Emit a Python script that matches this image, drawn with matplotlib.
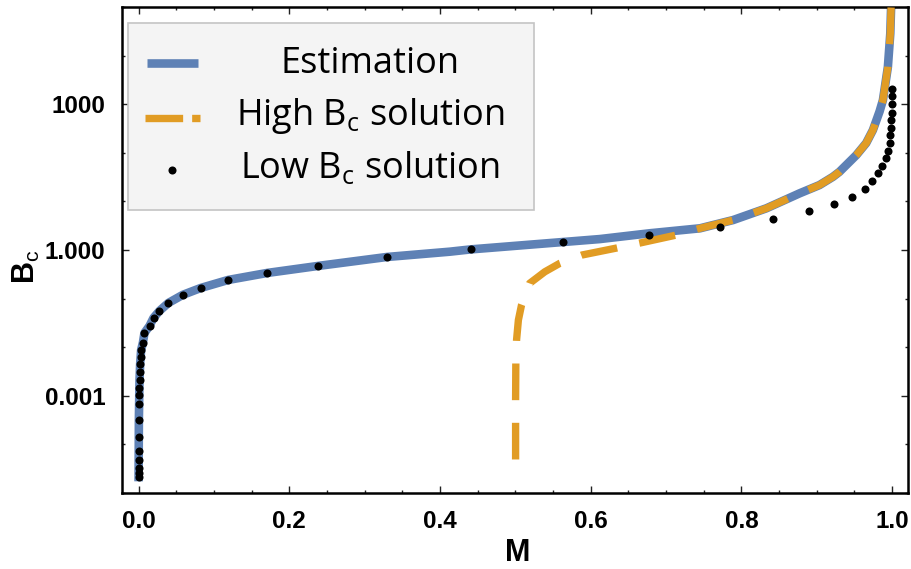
import matplotlib
matplotlib.use("Agg")
import matplotlib.pyplot as plt
from matplotlib.lines import Line2D
from matplotlib.patches import Rectangle
from matplotlib.ticker import NullFormatter

# values
# estimation curve (blue)
est_M = [0.0, 0.0004, 0.0012, 0.0021, 0.0034, 0.0057, 0.0078, 0.0145, 0.0198,
         0.0277, 0.0396, 0.0587, 0.0826, 0.1188, 0.1705, 0.2381, 0.3296, 0.413,
         0.441, 0.563, 0.612, 0.678, 0.745, 0.789, 0.833, 0.877, 0.9035, 0.9214,
         0.930, 0.9524, 0.9655, 0.9744, 0.9833, 0.9877, 0.9922, 0.9943, 0.9975,
         0.9988]
est_B = [1.70e-5, 3.2e-4, 2.0e-3, 4.5e-3, 8.7e-3, 1.22e-2, 1.95e-2, 2.72e-2, 3.98e-2,
         5.55e-2, 8.11e-2, 0.119, 0.165, 0.241, 0.336, 0.469, 0.718, 0.923,
         1.03, 1.46, 1.68, 2.21, 2.80, 4.15, 7.23, 14.7, 21.8, 32.3,
         40.9, 90.4, 160, 296, 720, 1225, 3600, 5940, 2.9e4,
         1.3e5]

# high Bc solution (orange dashed)
high_M = [0.5003, 0.5003, 0.5006, 0.5016, 0.504, 0.5082, 0.519, 0.539, 0.559,
          0.5886, 0.6346, 0.665, 0.714, 0.745, 0.789, 0.833, 0.877, 0.9035,
          0.9214, 0.930, 0.9524, 0.9655, 0.9744, 0.9833, 0.9877, 0.9922, 0.9943,
          0.9975, 0.9988]
high_B = [4.8e-5, 8.1e-4, 4.7e-3, 1.41e-2, 3.6e-2, 7.4e-2, 0.206, 0.355, 0.532,
          0.789, 1.10, 1.39, 2.04, 2.80, 4.15, 7.23, 14.7, 21.8,
          32.3, 40.9, 90.4, 160, 296, 720, 1225, 3600, 5940,
          2.9e4, 1.3e5]

# low Bc solution (black dots)
low_M = [0.0008, 0.0008, 0.0008, 0.0008, 0.0008, 0.0009, 0.0009, 0.0010, 0.0010,
         0.0012, 0.0013, 0.0021, 0.0022, 0.0030, 0.0034, 0.0057, 0.0078, 0.0145,
         0.0198, 0.0277, 0.0396, 0.0587, 0.0826, 0.1188, 0.1705, 0.2381, 0.3296,
         0.4410, 0.5630, 0.6770, 0.7712, 0.8414, 0.8892, 0.9223, 0.9462, 0.9634,
         0.9731, 0.9810, 0.9869, 0.9912, 0.9943, 0.9966, 0.9975, 0.9983, 0.9988,
         0.9995, 1.0, 1.0, 1.0]
low_B = [2.12e-5, 2.56e-5, 3.25e-5, 4.75e-5, 7.28e-5, 1.41e-4, 3.16e-4, 6.75e-4, 1.04e-3,
         1.44e-3, 2.11e-3, 3.08e-3, 4.50e-3, 6.27e-3, 8.73e-3, 1.22e-2, 1.95e-2, 2.72e-2,
         3.98e-2, 5.55e-2, 8.11e-2, 0.119, 0.165, 0.241, 0.336, 0.469, 0.718,
         1.03, 1.46, 2.07, 2.93, 4.41, 6.27, 8.85, 12.5, 17.8,
         26.4, 37.9, 54.5, 77.3, 111, 162, 233, 330, 475,
         671, 1000, 1480, 2130]

x_ticks = [0.0, 0.2, 0.4, 0.6, 0.8, 1.0]
x_tick_labels = ["0.0", "0.2", "0.4", "0.6", "0.8", "1.0"]
x_minor = [0.05, 0.1, 0.15, 0.25, 0.3, 0.35, 0.45, 0.5, 0.55, 0.65, 0.7, 0.75,
           0.85, 0.9, 0.95]
y_ticks = [1e-3, 1, 1e3]
y_tick_labels = ["0.001", "1.000", "1000"]
y_minor = [1e-5, 1e-4, 1e-2, 1e-1, 1e1, 1e2, 1e4, 1e5]

legend_labels = ["Estimation", r"High B$_\mathsf{c}$ solution", r"Low B$_\mathsf{c}$ solution"]

BLUE = "#5e81b5"
ORANGE = "#e19c24"

plt.rcParams["mathtext.fontset"] = "custom"
plt.rcParams["mathtext.rm"] = "Liberation Sans"
plt.rcParams["mathtext.bf"] = "Liberation Sans:bold"
plt.rcParams["mathtext.sf"] = "Open Sans"
plt.rcParams["lines.scale_dashes"] = False

W, H = 912, 569
fig = plt.figure(figsize=(W / 100, H / 100), dpi=100)
ax = fig.add_axes([122 / W, 1 - 493 / H, 786 / W, 486 / H])

ax.plot(est_M, est_B, color=BLUE, lw=6.2, solid_capstyle="butt",
        solid_joinstyle="round", zorder=2)
ax.plot(high_M, high_B, color=ORANGE, lw=5.3, dashes=(26.4, 16.3), zorder=3)
ax.plot(low_M, low_B, "o", color="black", ms=5.8, mew=0, zorder=4)

ax.set_yscale("log")
ax.set_xlim(-0.022, 1.021)
ax.set_ylim(10 ** -5.01, 10 ** 5.01)

tick_font = dict(fontsize=17.5, fontweight="bold", family="Liberation Sans")
ax.set_xticks(x_ticks, labels=x_tick_labels, **tick_font)
ax.set_xticks(x_minor, minor=True)
ax.set_yticks(y_ticks, labels=y_tick_labels, **tick_font)
ax.set_yticks(y_minor, minor=True)
ax.yaxis.set_minor_formatter(NullFormatter())

ax.tick_params(which="both", direction="in", top=True, right=True, width=1.0,
               color="#222222")
ax.tick_params(which="major", length=5, pad=12)
ax.tick_params(which="minor", length=2.5)
for s in ax.spines.values():
    s.set_linewidth(1.8)

ax.set_xlabel("M", fontsize=22, fontweight="bold", family="Liberation Sans")
ax.xaxis.label.set_va("center")
ax.xaxis.set_label_coords(0.5036, -0.124)
ax.set_ylabel(r"$\mathbf{B}_{\mathrm{c}}$", fontsize=22)
ax.yaxis.label.set_va("center")
ax.yaxis.set_label_coords(-0.121, 0.466)

# legend drawn by hand (Mathematica style, centred text)
tf = fig.transFigure
fig.add_artist(Rectangle((128.3 / W, 1 - 210 / H), 406 / W, 186.7 / H, transform=tf,
                         facecolor="#f4f4f4", edgecolor="#c4c4c4", lw=1.2, zorder=5))
fig.add_artist(Line2D([146.7 / W, 198.3 / W], [1 - 63.3 / H] * 2, transform=tf,
                      color=BLUE, lw=6.2, solid_capstyle="butt", zorder=6))
fig.add_artist(Line2D([145 / W, 200 / W], [1 - 118.3 / H] * 2, transform=tf,
                      color=ORANGE, lw=5.3, dashes=(27.1, 6.5), zorder=6))
fig.add_artist(Line2D([171.7 / W], [1 - 170 / H], transform=tf, marker="o",
                      ls="none", color="black", ms=5.8, mew=0, zorder=6))
for lab, yb in zip(legend_labels, [73.3, 125, 178.3]):
    fig.text(370 / W, 1 - yb / H, lab, ha="center", va="baseline", fontsize=26,
             family="Open Sans", zorder=7)

fig.savefig("out.png", dpi=100)
